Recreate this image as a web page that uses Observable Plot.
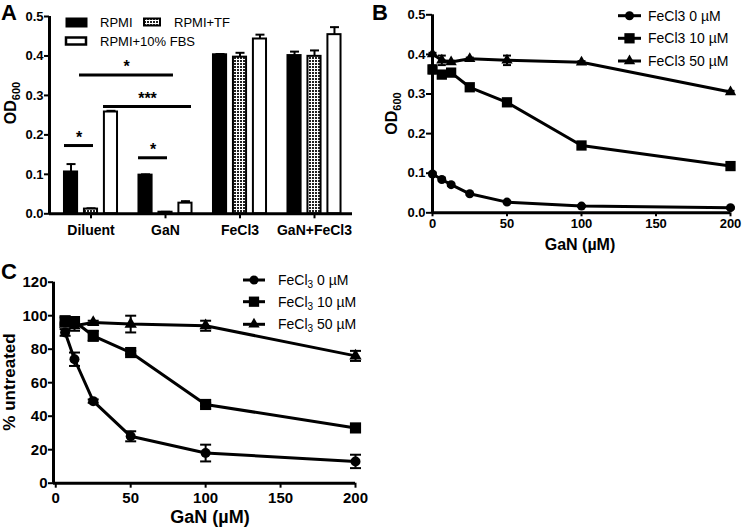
<!DOCTYPE html>
<html><head><meta charset="utf-8">
<script src="https://cdn.jsdelivr.net/npm/d3@7"></script>
<script src="https://cdn.jsdelivr.net/npm/@observablehq/plot@0.6"></script>
<style>
body{margin:0;background:#fff;}
#wrap{position:relative;width:742px;height:530px;overflow:hidden;font-family:"Liberation Sans",Arial,sans-serif;color:#000;}
#wrap svg{position:absolute;overflow:visible;}
.plab{position:absolute;font-weight:bold;font-size:22px;line-height:26px;z-index:5;}
</style></head><body><div id="wrap"></div>
<script>
// ---------- Panel A data ----------
const groupsA = ["Diluent", "GaN", "FeCl3", "GaN+FeCl3"];
const seriesA = ["RPMI", "RPMI+TF", "RPMI+10% FBS"];
const rpmiA    = [0.106, 0.098, 0.403, 0.401];
const rpmiErrA = [0.020, 0.002, 0.002, 0.010];
const tfA      = [0.012, 0.004, 0.397, 0.399];
const tfErrA   = [0.002, 0.001, 0.011, 0.015];
const fbsA     = [0.258, 0.027, 0.443, 0.454];
const fbsErrA  = [0.003, 0.005, 0.011, 0.019];
const sigX1A   = [-0.154, 0.168, -0.356, 0.638];
const sigX2A   = [1.107, 1.349, 0.034, 1.027];
const sigYA    = [0.352, 0.272, 0.173, 0.142];
const sigLabA  = ["*", "***", "*", "*"];
const yTicksA  = [0, 0.1, 0.2, 0.3, 0.4, 0.5];

// ---------- Panel B data ----------
const gaNB     = [0, 6.25, 12.5, 25, 50, 100, 200];
const fe0B     = [0.098, 0.084, 0.071, 0.048, 0.027, 0.017, 0.013];
const fe0ErrB  = [0.004, 0.003, 0.003, 0.002, 0.002, 0.002, 0.002];
const fe10B    = [0.362, 0.349, 0.354, 0.317, 0.279, 0.170, 0.118];
const fe10ErrB = [0.010, 0.004, 0.004, 0.004, 0.003, 0.004, 0.003];
const fe50B    = [0.401, 0.385, 0.381, 0.389, 0.385, 0.380, 0.305];
const fe50ErrB = [0.003, 0.012, 0.003, 0.003, 0.012, 0.003, 0.003];
const xTicksB  = [0, 50, 100, 150, 200];
const yTicksB  = [0, 0.1, 0.2, 0.3, 0.4, 0.5];
const legendB  = ["FeCl3 0 µM", "FeCl3 10 µM", "FeCl3 50 µM"];

// ---------- Panel C data ----------
const gaNC     = [6.25, 12.5, 25, 50, 100, 200];
const fe0C     = [90, 74, 49, 28, 18, 13];
const fe0ErrC  = [2, 4, 1, 3, 5, 4];
const fe10C    = [97, 96.5, 88, 78, 47, 33];
const fe10ErrC = [2, 2, 3, 1, 1, 1];
const fe50C    = [95, 94, 96, 95, 94, 76];
const fe50ErrC = [1, 3, 1, 5, 3, 3];
const xTicksC  = [0, 50, 100, 150, 200];
const yTicksC  = [0, 20, 40, 60, 80, 100, 120];
const legendCdose = ["0 µM", "10 µM", "50 µM"];

const FONT = '"Liberation Sans", Arial, sans-serif';
const wrap = d3.select("#wrap");
const cap = w => ({draw(ctx) { ctx.moveTo(-w, 0); ctx.lineTo(w, 0); }});
const symNames = ["circle", "square", "triangle"];
const symD3 = [d3.symbolCircle, d3.symbolSquare, d3.symbolTriangle];

function place(svg, left, top) {
  svg.style.left = left + "px"; svg.style.top = top + "px";
  wrap.node().appendChild(svg);
  return d3.select(svg);
}
function label(txt, left, top) {
  wrap.append("div").attr("class", "plab").style("left", left + "px").style("top", top + "px").text(txt);
}

// ================= Panel A =================
const offA = 0.268, hwA = 0.088;
const colsA = [[rpmiA, rpmiErrA], [tfA, tfErrA], [fbsA, fbsErrA]];
const barsA = colsA.map(([v, e], s) => groupsA.map((g, i) => ({group: g, series: seriesA[s], x: i + (s - 1) * offA, y: v[i], err: e[i]})));
const sigA = sigLabA.map((l, i) => ({x1: sigX1A[i], x2: sigX2A[i], y: sigYA[i], label: l}));
const fillsA = ["black", "url(#chkA)", "white"];
const xDomA = [-0.557, 3.51];

const plotA = Plot.plot({
  width: 365, height: 250,
  marginLeft: 49, marginRight: 13, marginTop: 16, marginBottom: 36.7,
  style: {fontFamily: FONT, background: "transparent", overflow: "visible"},
  x: {domain: xDomA, axis: null},
  y: {domain: [0, 0.5], axis: null},
  marks: [
    Plot.axisY({ticks: yTicksA, tickFormat: ".1f", tickSize: 5, tickPadding: 1, strokeWidth: 2, fontSize: 13, fontWeight: "bold", label: null}),
    Plot.axisX({ticks: [0, 1, 2, 3], tickFormat: i => groupsA[i], tickSize: 5, tickPadding: 6, strokeWidth: 2, fontSize: 14, fontWeight: "bold", label: null}),
    ...barsA.flatMap((rows, s) => [
      Plot.ruleX(rows, {x: "x", y1: "y", y2: d => d.y + d.err, strokeWidth: 2}),
      Plot.dot(rows, {x: "x", y: d => d.y + d.err, symbol: cap(4.5), fill: "none", stroke: "black", strokeWidth: 2, r: 3}),
      Plot.rect(rows, {x1: d => d.x - hwA, x2: d => d.x + hwA, y1: 0, y2: "y", fill: fillsA[s], stroke: "black", strokeWidth: 2})
    ]),
    Plot.ruleY(sigA, {x1: "x1", x2: "x2", y: "y", strokeWidth: 3}),
    Plot.text(sigA, {x: d => (d.x1 + d.x2) / 2, y: "y", text: "label", fontSize: 16, fontWeight: "bold", lineAnchor: "middle", dy: -8}),
    Plot.ruleX([xDomA[0]], {y1: 0, y2: 0.5, strokeWidth: 3}),
    Plot.ruleY([0], {strokeWidth: 3})
  ]
});
const sA = place(plotA, 0, 0);
const defs = sA.insert("defs", ":first-child");
const pat = defs.append("pattern").attr("id", "chkA").attr("patternUnits", "userSpaceOnUse").attr("width", 3).attr("height", 3);
pat.append("rect").attr("width", 3).attr("height", 3).attr("fill", "#fff");
pat.append("rect").attr("width", 2).attr("height", 2).attr("fill", "#222");
// legend A
const legA = sA.append("g").attr("font-family", FONT).attr("font-size", 13).attr("text-anchor", "start");
legA.append("rect").attr("x", 66).attr("y", 18).attr("width", 21).attr("height", 9).attr("fill", "black").attr("stroke", "black").attr("stroke-width", 1);
legA.append("text").attr("x", 100).attr("y", 27).text(seriesA[0]);
legA.append("rect").attr("x", 144).attr("y", 18.5).attr("width", 16).attr("height", 7).attr("fill", "url(#chkA)").attr("stroke", "black").attr("stroke-width", 2);
legA.append("text").attr("x", 174).attr("y", 27).text(seriesA[1]);
legA.append("rect").attr("x", 66).attr("y", 37.5).attr("width", 20).attr("height", 7).attr("fill", "white").attr("stroke", "black").attr("stroke-width", 2.5);
legA.append("text").attr("x", 100).attr("y", 46).text(seriesA[2]);
// y title A
const tA = sA.append("text").attr("transform", "translate(15.5,103) rotate(-90)").attr("text-anchor", "middle")
  .attr("font-family", FONT).attr("font-weight", "bold").attr("font-size", 16);
tA.append("tspan").text("OD");
tA.append("tspan").attr("font-size", 11).attr("dy", 4).text("600");
label("A", 1, 0);

// ================= Panel B =================
const colsB = [[fe0B, fe0ErrB], [fe10B, fe10ErrB], [fe50B, fe50ErrB]];
const rowsB = colsB.map(([v, e]) => gaNB.map((x, i) => ({x, y: v[i], err: e[i]})));
const rB = [4.5, 5.8, 4.2];
const plotB = Plot.plot({
  width: 372, height: 255,
  marginLeft: 62, marginRight: 12, marginTop: 14.3, marginBottom: 42.7,
  style: {fontFamily: FONT, background: "transparent", overflow: "visible"},
  x: {domain: [0, 200], axis: null},
  y: {domain: [0, 0.5], axis: null},
  marks: [
    Plot.axisY({ticks: yTicksB, tickFormat: ".1f", tickSize: 6, tickPadding: 1, strokeWidth: 2, fontSize: 13, fontWeight: "bold", label: null}),
    Plot.axisX({ticks: xTicksB, tickFormat: d3.format("d"), tickSize: 4, tickPadding: 2, strokeWidth: 2, fontSize: 13, fontWeight: "bold", label: null}),
    Plot.ruleX([0], {y1: 0, y2: 0.5, strokeWidth: 3}),
    Plot.ruleY([0], {strokeWidth: 3}),
    ...rowsB.flatMap((rows, s) => [
      Plot.line(rows, {x: "x", y: "y", stroke: "black", strokeWidth: 3}),
      Plot.ruleX(rows, {x: "x", y1: d => d.y - d.err, y2: d => d.y + d.err, strokeWidth: 2}),
      Plot.dot(rows, {x: "x", y: d => d.y + d.err, symbol: cap(4), fill: "none", stroke: "black", strokeWidth: 2, r: 3}),
      Plot.dot(rows, {x: "x", y: d => d.y - d.err, symbol: cap(4), fill: "none", stroke: "black", strokeWidth: 2, r: 3}),
      Plot.dot(rows, {x: "x", y: "y", symbol: symNames[s], r: rB[s], fill: "black", stroke: "none"})
    ])
  ]
});
const sB = place(plotB, 370, 0);
const legB = sB.append("g").attr("font-family", FONT).attr("font-size", 14).attr("text-anchor", "start");
[15.7, 38.3, 61].forEach((cy, i) => {
  legB.append("line").attr("x1", 248).attr("x2", 271).attr("y1", cy).attr("y2", cy).attr("stroke", "black").attr("stroke-width", 3);
  legB.append("path").attr("transform", `translate(259.5,${cy})`).attr("d", d3.symbol(symD3[i], Math.PI * rB[i] * rB[i])()).attr("fill", "black");
  legB.append("text").attr("x", 278).attr("y", cy + 5).text(legendB[i]);
});
const tB = sB.append("text").attr("transform", "translate(27,113.5) rotate(-90)").attr("text-anchor", "middle")
  .attr("font-family", FONT).attr("font-weight", "bold").attr("font-size", 16);
tB.append("tspan").text("OD");
tB.append("tspan").attr("font-size", 11).attr("dy", 4).text("600");
sB.append("text").attr("x", 210).attr("y", 250).attr("text-anchor", "middle").attr("font-family", FONT)
  .attr("font-weight", "bold").attr("font-size", 16).text("GaN (µM)");
label("B", 372, 0);

// ================= Panel C =================
const colsC = [[fe0C, fe0ErrC], [fe10C, fe10ErrC], [fe50C, fe50ErrC]];
const rowsC = colsC.map(([v, e]) => gaNC.map((x, i) => ({x, y: v[i], err: e[i]})));
const rC = [5, 6.3, 4.6];
const plotC = Plot.plot({
  width: 370, height: 280,
  marginLeft: 53, marginRight: 15, marginTop: 31.7, marginBottom: 47.3,
  style: {fontFamily: FONT, background: "transparent", overflow: "visible"},
  x: {domain: [-1.5, 200], axis: null},
  y: {domain: [0, 120], axis: null},
  marks: [
    Plot.axisY({ticks: yTicksC, tickFormat: d3.format("d"), tickSize: 5, tickPadding: 1, strokeWidth: 2, fontSize: 15, fontWeight: "bold", label: null}),
    Plot.axisX({ticks: xTicksC, tickFormat: d3.format("d"), tickSize: 5, tickPadding: 4, strokeWidth: 2, fontSize: 15, fontWeight: "bold", label: null}),
    Plot.ruleX([-1.5], {y1: 0, y2: 120, strokeWidth: 3}),
    Plot.ruleY([0], {strokeWidth: 3}),
    ...rowsC.flatMap((rows, s) => [
      Plot.line(rows, {x: "x", y: "y", stroke: "black", strokeWidth: 3}),
      Plot.ruleX(rows, {x: "x", y1: d => d.y - d.err, y2: d => d.y + d.err, strokeWidth: 2}),
      Plot.dot(rows, {x: "x", y: d => d.y + d.err, symbol: cap(5.5), fill: "none", stroke: "black", strokeWidth: 2, r: 3}),
      Plot.dot(rows, {x: "x", y: d => d.y - d.err, symbol: cap(5.5), fill: "none", stroke: "black", strokeWidth: 2, r: 3}),
      Plot.dot(rows, {x: "x", y: "y", symbol: symNames[s], r: rC[s], fill: "black", stroke: "none"})
    ])
  ]
});
const sC = place(plotC, 0, 250);
const legC = sC.append("g").attr("font-family", FONT).attr("font-size", 14).attr("text-anchor", "start");
[30, 51.7, 74.3].forEach((cy, i) => {
  legC.append("line").attr("x1", 243).attr("x2", 265).attr("y1", cy).attr("y2", cy).attr("stroke", "black").attr("stroke-width", 3);
  legC.append("path").attr("transform", `translate(254,${cy})`).attr("d", d3.symbol(symD3[i], Math.PI * rB[i] * rB[i])()).attr("fill", "black");
  const t = legC.append("text").attr("x", 278).attr("y", cy + 5);
  t.append("tspan").text("FeCl");
  t.append("tspan").attr("font-size", 10).attr("dy", 3).text("3");
  t.append("tspan").attr("dy", -3).text(" " + legendCdose[i]);
});
sC.append("text").attr("transform", "translate(15,132) rotate(-90)").attr("text-anchor", "middle")
  .attr("font-family", FONT).attr("font-weight", "bold").attr("font-size", 17).text("% untreated");
sC.append("text").attr("x", 210).attr("y", 273).attr("text-anchor", "middle").attr("font-family", FONT)
  .attr("font-weight", "bold").attr("font-size", 18).text("GaN (µM)");
label("C", 1, 259);
</script></body></html>
